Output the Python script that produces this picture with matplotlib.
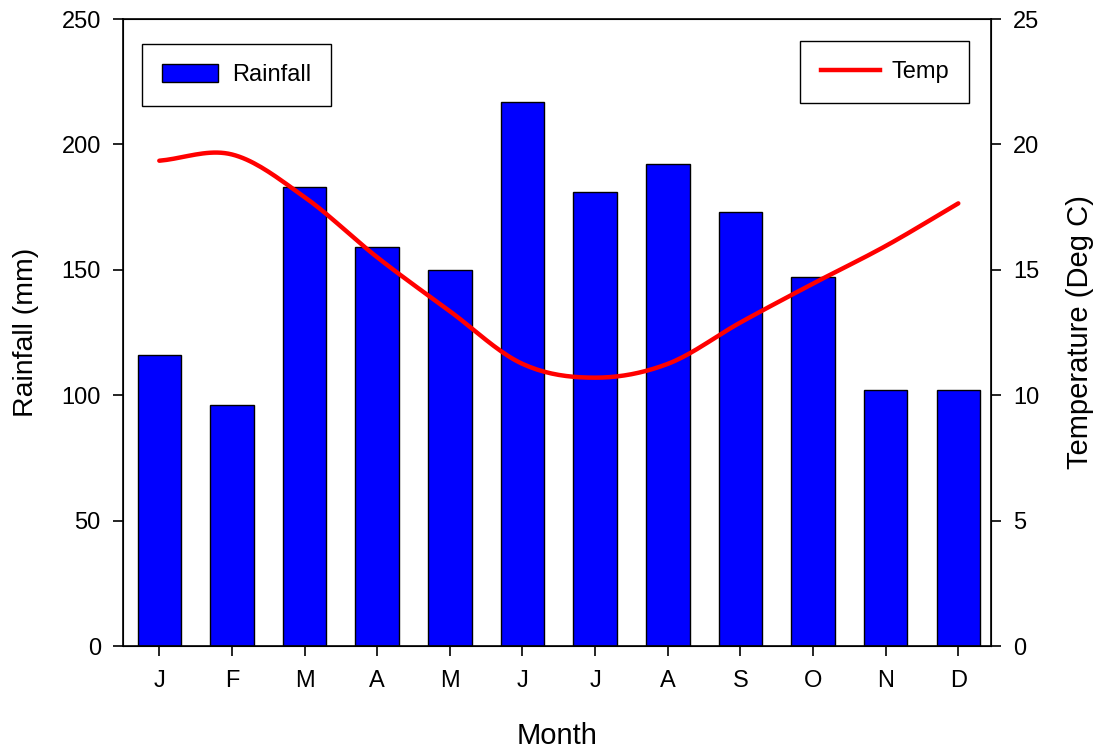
"""
Monthly rainfall (bars) and temperature (smoothed line) climate chart
"""

import numpy as np
import matplotlib
matplotlib.use("Agg")
import matplotlib.pyplot as plt
from matplotlib.patches import Patch
from matplotlib.lines import Line2D

plt.rcParams["font.family"] = ["Liberation Sans", "DejaVu Sans"]

# ─────────────────────────────────────────────────────────────
# DATA
# ─────────────────────────────────────────────────────────────
months   = ["J", "F", "M", "A", "M", "J", "J", "A", "S", "O", "N", "D"]
rainfall = [116, 96, 183, 159, 150, 217, 181, 192, 173, 147, 102, 102]   # mm
temp     = [19.35, 19.6, 17.9, 15.5, 13.35, 11.25, 10.7, 11.25, 12.9, 14.45, 15.95, 17.65]  # deg C


def catmull_rom(x, y, n=20):
    """Smooth curve through the points (display only)."""
    x = np.asarray(x, float)
    y = np.asarray(y, float)
    px = np.concatenate([[2 * x[0] - x[1]], x, [2 * x[-1] - x[-2]]])
    py = np.concatenate([[2 * y[0] - y[1]], y, [2 * y[-1] - y[-2]]])
    xs, ys = [], []
    t = np.linspace(0, 1, n, endpoint=False)
    for i in range(1, len(px) - 2):
        for p, out in ((px, xs), (py, ys)):
            p0, p1, p2, p3 = p[i - 1], p[i], p[i + 1], p[i + 2]
            out.append(0.5 * (2 * p1 + (-p0 + p2) * t
                              + (2 * p0 - 5 * p1 + 4 * p2 - p3) * t ** 2
                              + (-p0 + 3 * p1 - 3 * p2 + p3) * t ** 3))
    xs.append([x[-1]])
    ys.append([y[-1]])
    return np.concatenate(xs), np.concatenate(ys)


# ─────────────────────────────────────────────────────────────
# PLOT
# ─────────────────────────────────────────────────────────────
fig = plt.figure(figsize=(11, 7.49), dpi=100)
ax = fig.add_axes([0.1118, 0.1375, 0.7891, 0.8371])
x = np.arange(len(months))

ax.bar(x, rainfall, width=0.6, color="#0000ff", edgecolor="black", linewidth=1.0, zorder=2)
ax.set_xlim(-0.5, 11.45)
ax.set_ylim(0, 250)
ax.set_yticks(np.arange(0, 251, 50))
ax.set_xticks(x)
ax.set_xticklabels(months)
ax.tick_params(axis="both", labelsize=17, direction="out", length=7, width=1.2, colors="black")
ax.tick_params(axis="y", pad=9)
ax.tick_params(axis="x", pad=10)
ax.set_ylabel("Rainfall (mm)", fontsize=20.5, labelpad=16)
ax.set_xlabel("Month", fontsize=21, labelpad=22)
for s in ax.spines.values():
    s.set_linewidth(1.2)

ax2 = ax.twinx()
sx, sy = catmull_rom(x, temp)
ax2.plot(sx, sy, color="#ff0000", linewidth=3.2, solid_capstyle="round", zorder=3)
ax2.set_ylim(0, 25)
ax2.set_yticks(np.arange(0, 26, 5))
ax2.tick_params(axis="y", labelsize=17, direction="out", length=7, width=1.2, pad=9)
ax2.set_ylabel("Temperature (Deg C)", fontsize=21, labelpad=19)

# legends
leg1 = ax.legend(handles=[Patch(facecolor="#0000ff", edgecolor="black", label="Rainfall")],
                 loc="upper left", bbox_to_anchor=(0.022, 0.960), borderaxespad=0,
                 fontsize=17, fancybox=False, framealpha=1, edgecolor="black",
                 handlelength=2.35, handleheight=0.8, borderpad=0.85, handletextpad=0.6)
leg1.get_frame().set_linewidth(1.0)
leg2 = ax2.legend(handles=[Line2D([], [], color="#ff0000", linewidth=3.2, label="Temp")],
                  loc="upper right", bbox_to_anchor=(0.9747, 0.965), borderaxespad=0,
                  fontsize=17, fancybox=False, framealpha=1, edgecolor="black",
                  handlelength=2.5, borderpad=0.85, handletextpad=0.5)
leg2.get_frame().set_linewidth(1.0)

fig.savefig("out.png", dpi=100)
